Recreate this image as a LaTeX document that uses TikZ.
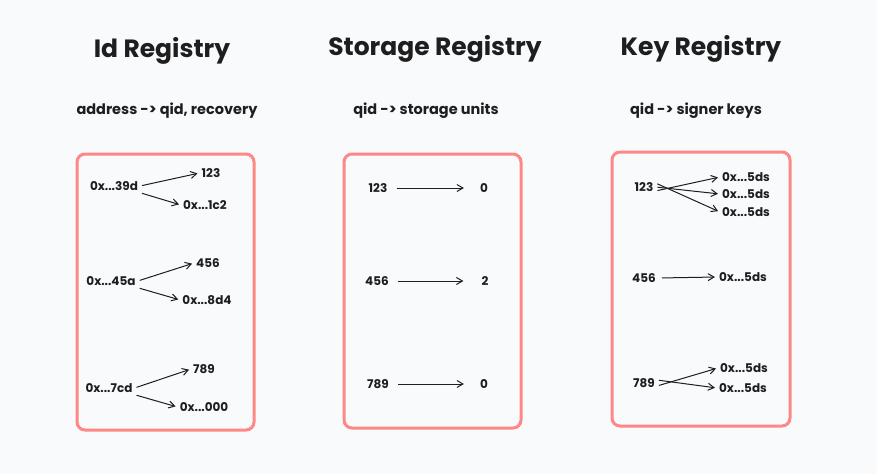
\documentclass[tikz,border=0pt]{standalone}
\usepackage{fontspec}
\setmainfont{Poppins}
\usetikzlibrary{arrows.meta, positioning}

\definecolor{pagebg}{HTML}{F9FAFC}
\definecolor{boxred}{HTML}{FF8787}
\definecolor{inkgray}{HTML}{1E1E1E}

\begin{document}
\begin{tikzpicture}[x=1pt, y=-1pt]
    % --- Style Definitions ---
    \tikzset{
        % Registry frames
        frame style/.style={
            draw=boxred,
            line width=3pt,
            rounded corners=8pt
        },
        % Text styling
        title text/.style={font=\fontsize{25}{29}\selectfont\bfseries, text=inkgray},
        map text/.style={font=\fontsize{14.5}{17}\selectfont\bfseries, text=inkgray},
        entry text/.style={font=\fontsize{12}{14}\selectfont\bfseries, text=inkgray, inner sep=2pt},
        % Arrow styling
        map arrow/.style={
            -{Straight Barb[length=6pt, width=7pt]},
            line width=1pt,
            inkgray,
            shorten <=2pt,
            shorten >=2pt
        }
    }

    % Canvas
    \fill[pagebg] (0,0) rectangle (877,474);
    \useasboundingbox (0,0) rectangle (877,474);

    % ==========================================
    % LEFT: Id Registry
    % ==========================================
    \node[title text] (title_id) at (162,51) {Id Registry};
    \node[map text] (map_id) at (167,111) {address -> qid, recovery};
    \draw[frame style] (77,154) rectangle (254,430);

    \node[entry text] (addr_39d) at (114,186) {0x...39d};
    \node[entry text] (fid_123) at (211,173) {123};
    \node[entry text] (rec_1c2) at (205,205) {0x...1c2};
    \draw[map arrow] (addr_39d.east) -- (fid_123.west);
    \draw[map arrow] (addr_39d.south east) -- (rec_1c2.west);

    \node[entry text] (addr_45a) at (111,281) {0x...45a};
    \node[entry text] (fid_456) at (208,263) {456};
    \node[entry text] (rec_8d4) at (207,300) {0x...8d4};
    \draw[map arrow] (addr_45a.east) -- (fid_456.west);
    \draw[map arrow] (addr_45a.south east) -- (rec_8d4.west);

    \node[entry text] (addr_7cd) at (109,388) {0x...7cd};
    \node[entry text] (fid_789) at (204,369) {789};
    \node[entry text] (rec_000) at (204,407) {0x...000};
    \draw[map arrow] (addr_7cd.east) -- (fid_789.west);
    \draw[map arrow] (addr_7cd.south east) -- (rec_000.west);

    % ==========================================
    % MIDDLE: Storage Registry
    % ==========================================
    \node[title text] (title_storage) at (435,49) {Storage Registry};
    \node[map text] (map_storage) at (426,111) {qid -> storage units};
    \draw[frame style] (344,154) rectangle (521,428);

    \node[entry text] (sid_123) at (378,188) {123};
    \node[entry text] (units_123) at (484,188) {0};
    \draw[map arrow, shorten <=7pt, shorten >=14pt] (sid_123.east) -- (units_123.west);

    \node[entry text] (sid_456) at (377,281) {456};
    \node[entry text] (units_456) at (485,281) {2};
    \draw[map arrow, shorten <=7pt, shorten >=16pt] (sid_456.east) -- (units_456.west);

    \node[entry text] (sid_789) at (378,384) {789};
    \node[entry text] (units_789) at (484,384) {0};
    \draw[map arrow, shorten <=7pt, shorten >=14pt] (sid_789.east) -- (units_789.west);

    % ==========================================
    % RIGHT: Key Registry
    % ==========================================
    \node[title text] (title_key) at (701,49) {Key Registry};
    \node[map text] (map_key) at (696,111) {qid -> signer keys};
    \draw[frame style] (612,152) rectangle (790,426);

    \node[entry text] (kid_123) at (644,187) {123};
    \node[entry text] (key_123a) at (746,177) {0x...5ds};
    \node[entry text] (key_123b) at (746,194) {0x...5ds};
    \node[entry text] (key_123c) at (746,212) {0x...5ds};
    \draw[map arrow] ([yshift=-4pt]kid_123.east) -- (key_123a.west);
    \draw[map arrow] (kid_123.east) -- (key_123b.west);
    \draw[map arrow] ([yshift=4pt]kid_123.east) -- (key_123c.west);

    \node[entry text] (kid_456) at (644,278) {456};
    \node[entry text] (key_456) at (743,277) {0x...5ds};
    \draw[map arrow, shorten <=4pt] (kid_456.east) -- (key_456.west);

    \node[entry text] (kid_789) at (644,383) {789};
    \node[entry text] (key_789a) at (744,368) {0x...5ds};
    \node[entry text] (key_789b) at (743,388) {0x...5ds};
    \draw[map arrow] ([yshift=-3pt]kid_789.east) -- (key_789a.west);
    \draw[map arrow] ([yshift=3pt]kid_789.east) -- (key_789b.west);

\end{tikzpicture}
\end{document}
